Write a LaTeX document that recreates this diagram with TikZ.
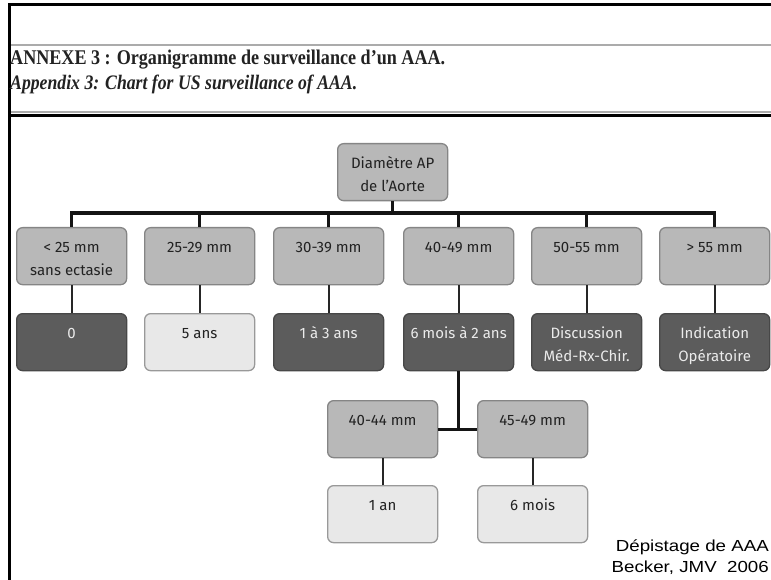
\documentclass[tikz,border=0pt]{standalone}
\usepackage{fontspec}
\setmainfont{Liberation Serif}
\newfontfamily\chartfont{Fira Sans}
\newfontfamily\notefont{Liberation Sans}
\definecolor{midbox}{HTML}{B8B8B8}
\definecolor{midedge}{HTML}{858585}
\definecolor{darkbox}{HTML}{5C5C5C}
\definecolor{darkedge}{HTML}{474747}
\definecolor{lightbox}{HTML}{E8E8E8}
\definecolor{lightedge}{HTML}{999999}
\definecolor{ink}{HTML}{222222}
\definecolor{rule}{HTML}{ABABAB}
\newcommand{\btxt}[1]{\parbox[c][57pt][t]{110pt}{\centering\fontsize{15}{22.5}\selectfont\vspace*{9.2pt}\strut #1}}
\tikzset{
  basebox/.style={rounded corners=6pt, line width=1.3pt, inner sep=0pt,
    minimum width=110pt, minimum height=57pt, anchor=north west, font=\chartfont},
  midnode/.style={basebox, draw=midedge, fill=midbox, text=ink},
  darknode/.style={basebox, draw=darkedge, fill=darkbox, text=white!92!black},
  lightnode/.style={basebox, draw=lightedge, fill=lightbox, text=ink},
  busline/.style={line width=3.2pt, draw=black!92},
  thinline/.style={line width=2pt, draw=black!85},
}
\begin{document}
\begin{tikzpicture}[x=1pt,y=-1pt]
\useasboundingbox (0,0) rectangle (771,580);
\fill[white] (0,0) rectangle (771,580);
% frame
\draw[line width=3pt] (8,5) -- (771,5);
\draw[line width=3pt] (9.5,3.5) -- (9.5,580);
\draw[rule, line width=1.3pt] (11,45) -- (771,45);
\draw[rule, line width=1.3pt] (11,112) -- (771,112);
\draw[line width=3pt] (8,116) -- (771,116);
% titles
\node[anchor=base west, inner sep=0pt, text=ink] (title1) at (10,65)
  {\resizebox{435pt}{14.5pt}{\fontsize{21}{21}\selectfont\bfseries ANNEXE 3 : Organigramme de surveillance d’un AAA.}};
\node[anchor=base west, inner sep=0pt, text=ink] (title2) at (10,90)
  {\resizebox{347pt}{14.5pt}{\fontsize{21}{21}\selectfont\bfseries\itshape Appendix 3: Chart for US surveillance of AAA.}};
% root
\node[midnode] (root) at (337,143) {\btxt{Diamètre AP\\de l’Aorte}};
% row 1
\node[midnode] (b1) at (16,227) {\btxt{< 25 mm\\sans ectasie}};
\node[midnode] (b2) at (144,227) {\btxt{25-29 mm}};
\node[midnode] (b3) at (273,227) {\btxt{30-39 mm}};
\node[midnode] (b4) at (403,227) {\btxt{40-49 mm}};
\node[midnode] (b5) at (531,227) {\btxt{50-55 mm}};
\node[midnode] (b6) at (659,227) {\btxt{> 55 mm}};
% row 2
\node[darknode] (c1) at (16,313) {\btxt{0}};
\node[lightnode] (c2) at (144,313) {\btxt{5 ans}};
\node[darknode] (c3) at (273,313) {\btxt{1 à 3 ans}};
\node[darknode] (c4) at (403,313) {\btxt{6 mois à 2 ans}};
\node[darknode] (c5) at (531,313) {\btxt{Discussion\\Méd-Rx-Chir.}};
\node[darknode] (c6) at (659,313) {\btxt{Indication\\Opératoire}};
% row 3
\node[midnode] (d1) at (327,400) {\btxt{40-44 mm}};
\node[midnode] (d2) at (477,400) {\btxt{45-49 mm}};
% row 4
\node[lightnode] (e1) at (327,485) {\btxt{1 an}};
\node[lightnode] (e2) at (477,485) {\btxt{6 mois}};
% connectors
\coordinate (busy) at (0,213);
\foreach \k in {1,...,6}{
  \draw[busline] (root.south) -- (root.south |- busy) -| (b\k.north);
}
\foreach \k in {1,...,6}{
  \draw[thinline] (b\k.south) -- (c\k.north);
}
\draw[busline] (c4.south) -- (c4.south |- d1.east);
\draw[busline] (d1.east) -- (d2.west);
\draw[thinline] (d1.south) -- (e1.north);
\draw[thinline] (d2.south) -- (e2.north);
% note
\node[anchor=base east, inner sep=0pt, font=\notefont] (note1) at (769,551)
  {\scalebox{1.17}[1]{\fontsize{16}{19}\selectfont Dépistage de AAA}};
\node[anchor=base east, inner sep=0pt, font=\notefont] (note2) at (769,572)
  {\scalebox{1.17}[1]{\fontsize{16}{19}\selectfont Becker, JMV\ \ 2006}};
\end{tikzpicture}
\end{document}
